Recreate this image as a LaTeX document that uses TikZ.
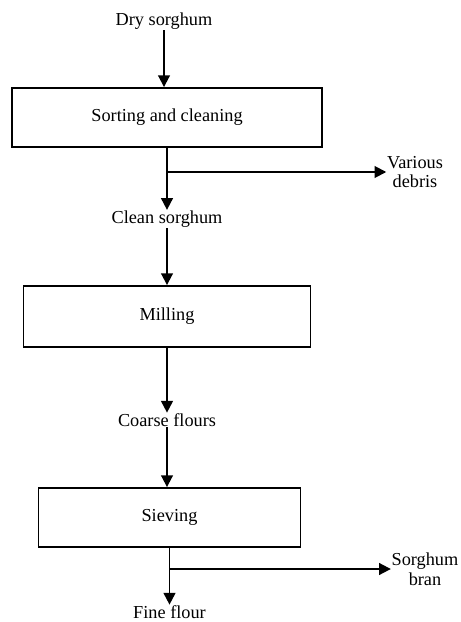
\documentclass[tikz,border=0pt]{standalone}
\usepackage{fontspec}
\setmainfont{Liberation Serif}
\usetikzlibrary{arrows.meta}

\begin{document}
\begin{tikzpicture}[x=0.03cm, y=-0.03cm, font=\fontsize{15.6}{17}\selectfont,
    flow/.style={line width=1.6pt, -{Triangle[length=10pt, width=10pt]}},
    stage/.style={draw, line width=1.6pt, minimum height=1.77cm, inner sep=0pt},
    lbl/.style={align=center, inner sep=0.5pt}]

    \useasboundingbox (0,0) rectangle (461,622); % page size of the reference

    \node[lbl] (dry) at (164,21) {Dry sorghum};
    \node[stage, minimum width=9.3cm] (sort) at (167,117.5) {Sorting and cleaning};
    \node[lbl] (clean) at (167,219) {Clean sorghum};
    \node[lbl] (debris) at (415,172) {Various\\debris};

    \node[stage, minimum width=8.61cm, minimum height=1.83cm] (mill) at (167,316.5) {Milling};
    \node[lbl] (coarse) at (167,420) {Coarse flours};

    \node[stage, minimum width=7.86cm] (sieve) at (169.5,517.5) {Sieving};
    \node[lbl] (fine) at (169.5,612) {Fine flour};
    \node[lbl] (bran) at (425,569) {Sorghum\\bran};

    \draw[flow] (dry) -- (dry |- sort.north);
    \draw[flow] (sort.south) -- (clean);
    \draw[flow] (sort.south |- debris.west) -- (debris); % debris branch
    \draw[flow] (clean) -- (clean |- mill.north);
    \draw[flow] (mill.south) -- (coarse);
    \draw[flow] (coarse) -- (coarse |- sieve.north);
    \draw[flow] (sieve.south) -- (fine);
    \draw[flow] (sieve.south |- bran.west) -- (bran); % bran branch
\end{tikzpicture}
\end{document}
